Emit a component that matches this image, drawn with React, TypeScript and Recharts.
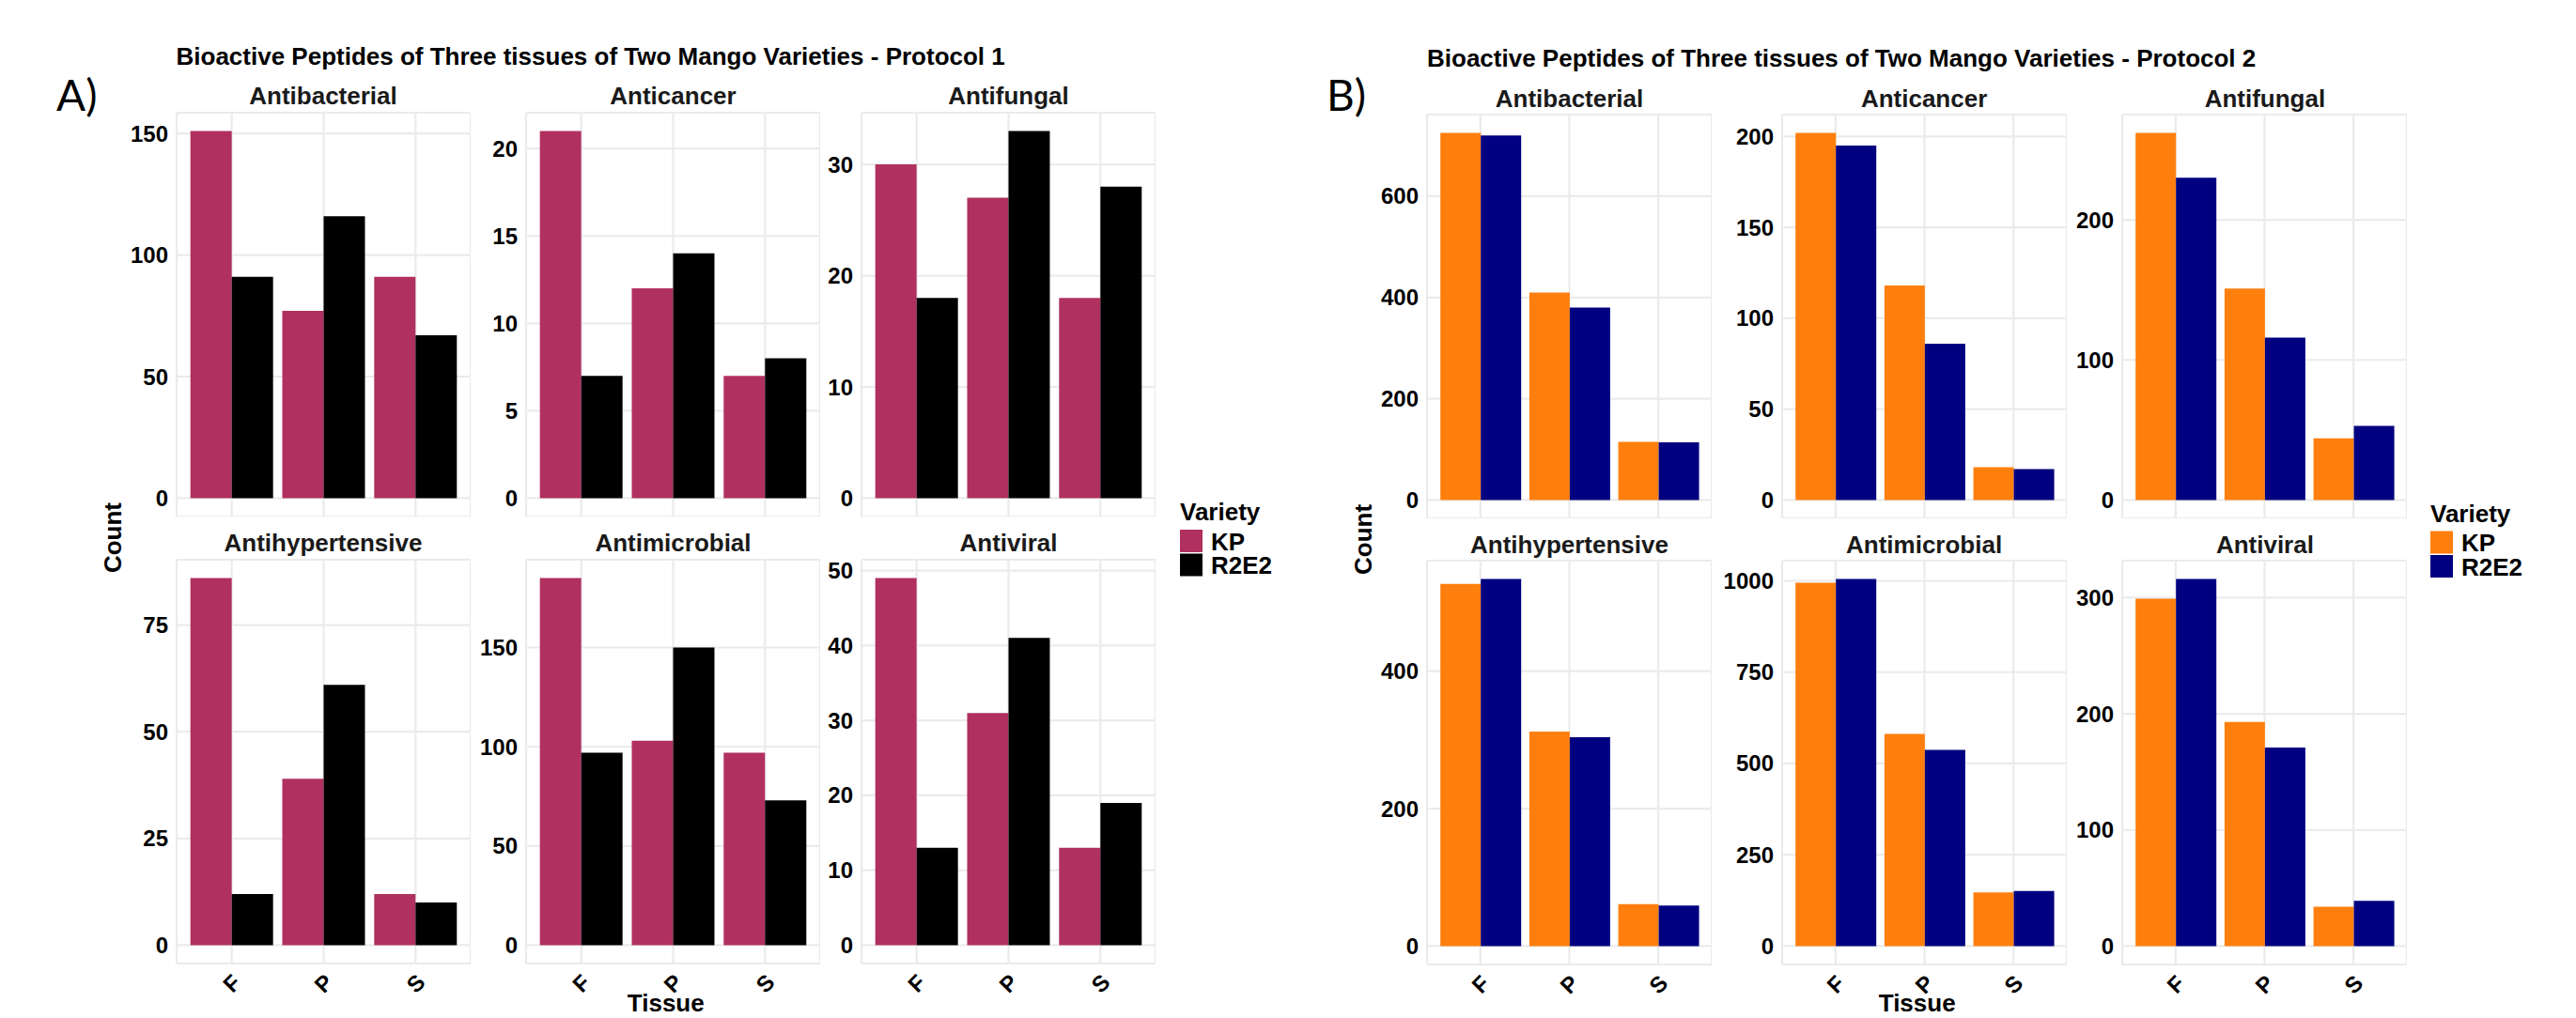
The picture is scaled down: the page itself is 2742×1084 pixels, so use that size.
import { Bar, BarChart, CartesianGrid, XAxis, YAxis } from "recharts";

const FONT = '"Liberation Sans", Arial, Helvetica, sans-serif';

const tissues = ["F", "P", "S"];
const varieties = ["KP", "R2E2"];
const activities = [
  "Antibacterial",
  "Anticancer",
  "Antifungal",
  "Antihypertensive",
  "Antimicrobial",
  "Antiviral",
];

// Protocol 1 counts, one row per activity: [F, P, S]
const p1KP = [
  [151, 77, 91],
  [21, 12, 7],
  [30, 27, 18],
  [86, 39, 12],
  [185, 103, 97],
  [49, 31, 13],
];
const p1R2E2 = [
  [91, 116, 67],
  [7, 14, 8],
  [18, 33, 28],
  [12, 61, 10],
  [97, 150, 73],
  [13, 41, 19],
];
const p1Ticks = [
  [0, 50, 100, 150],
  [0, 5, 10, 15, 20],
  [0, 10, 20, 30],
  [0, 25, 50, 75],
  [0, 50, 100, 150],
  [0, 10, 20, 30, 40, 50],
];

// Protocol 2 counts
const p2KP = [
  [725, 410, 115],
  [202, 118, 18],
  [262, 151, 44],
  [527, 312, 61],
  [995, 581, 147],
  [299, 193, 34],
];
const p2R2E2 = [
  [720, 380, 114],
  [195, 86, 17],
  [230, 116, 53],
  [534, 304, 59],
  [1005, 537, 151],
  [316, 171, 39],
];
const p2Ticks = [
  [0, 200, 400, 600],
  [0, 50, 100, 150, 200],
  [0, 100, 200],
  [0, 200, 400],
  [0, 250, 500, 750, 1000],
  [0, 100, 200, 300],
];

const p1Colors = ["#B03060", "#000000"];
const p2Colors = ["#FF7F0E", "#000080"];

const AXIS_W = 80;
const PANEL_H = 430;
const TOP_PAD = 20; // room so the top tick label is not clipped
const GRID = "#EBEBEB";

type Layout = { cols: number[]; rows: number[]; panelW: number };
const layoutA: Layout = { cols: [187.5, 560, 917], rows: [119.6, 595.5], panelW: 313 };
const layoutB: Layout = { cols: [1519, 1896.6, 2259.4], rows: [121.5, 597.3], panelW: 303 };

// minor breaks sit half way between the major ones (ggplot style)
const minorsOf = (ticks: number[], hi: number) => {
  const step = ticks[1] - ticks[0];
  return [...ticks, ticks[ticks.length - 1] + step]
    .slice(1)
    .map((t) => t - step / 2)
    .filter((t) => t <= hi);
};

function TissueTick(props: any) {
  const { x, y, payload } = props;
  const cy = y + 21;
  return (
    <text
      x={x}
      y={cy}
      transform={`rotate(-45 ${x} ${cy})`}
      textAnchor="middle"
      dominantBaseline="central"
      fontFamily={FONT}
      fontWeight={700}
      fontSize={24}
      fill="#000"
    >
      {payload.value}
    </text>
  );
}

function Facet({
  kp,
  r2,
  ticks,
  colors,
  left,
  top,
  panelW,
  bottomRow,
}: {
  kp: number[];
  r2: number[];
  ticks: number[];
  colors: string[];
  left: number;
  top: number;
  panelW: number;
  bottomRow: boolean;
}) {
  const data = tissues.map((t, i) => ({ tissue: t, KP: kp[i], R2E2: r2[i] }));
  const max = Math.max(...kp, ...r2);
  const lo = -0.05 * max;
  const hi = 1.05 * max;
  const pad = panelW / 32;
  const xH = bottomRow ? 60 : 0;

  return (
    <div style={{ position: "absolute", left: left - AXIS_W, top: top - TOP_PAD }}>
      <BarChart
        width={AXIS_W + panelW}
        height={PANEL_H + xH + TOP_PAD}
        data={data}
        margin={{ top: TOP_PAD, right: 0, bottom: 0, left: 0 }}
        barCategoryGap="5%"
        barGap={0}
      >
        <CartesianGrid yAxisId="minor" vertical={false} stroke={GRID} strokeWidth={1.3} />
        <CartesianGrid yAxisId="major" stroke={GRID} strokeWidth={2.2} />
        <XAxis
          dataKey="tissue"
          type="category"
          padding={{ left: pad, right: pad }}
          hide={!bottomRow}
          height={xH}
          axisLine={false}
          tickLine={false}
          tickSize={0}
          tickMargin={0}
          interval={0}
          tick={<TissueTick />}
        />
        <YAxis
          yAxisId="major"
          type="number"
          domain={[lo, hi]}
          ticks={ticks}
          interval={0}
          width={AXIS_W}
          axisLine={false}
          tickLine={false}
          tickSize={0}
          tickMargin={9}
          tick={{ fontSize: 24, fontWeight: 700, fill: "#000", fontFamily: FONT }}
        />
        <YAxis yAxisId="minor" type="number" domain={[lo, hi]} ticks={minorsOf(ticks, hi)} hide />
        <Bar yAxisId="major" dataKey="KP" fill={colors[0]} isAnimationActive={false} />
        <Bar yAxisId="major" dataKey="R2E2" fill={colors[1]} isAnimationActive={false} />
      </BarChart>
    </div>
  );
}

function Protocol({
  kp,
  r2,
  ticks,
  colors,
  layout,
}: {
  kp: number[][];
  r2: number[][];
  ticks: number[][];
  colors: string[];
  layout: Layout;
}) {
  return (
    <>
      {activities.map((a, i) => (
        <Facet
          key={a}
          kp={kp[i]}
          r2={r2[i]}
          ticks={ticks[i]}
          colors={colors}
          left={layout.cols[i % 3]}
          top={layout.rows[Math.floor(i / 3)]}
          panelW={layout.panelW}
          bottomRow={i >= 3}
        />
      ))}
    </>
  );
}

function Annotations({
  layout,
  title,
  tag,
  tagX,
  titleY,
  stripY,
  colors,
  legendX,
  legendY,
}: {
  layout: Layout;
  title: string;
  tag: string;
  tagX: number;
  titleY: number;
  stripY: number[];
  colors: string[];
  legendX: number;
  legendY: number;
}) {
  const { cols, rows, panelW } = layout;
  const midX = (cols[0] + cols[2] + panelW) / 2;
  const midY = (rows[0] + rows[1] + PANEL_H) / 2;
  const bold = { fontFamily: FONT, fontWeight: 700, fontSize: 26 };
  return (
    <g>
      <text x={cols[0]} y={titleY} {...bold} fill="#000">
        {title}
      </text>
      <text x={tagX} y={118} fontFamily="Lato, 'Open Sans', sans-serif" fontSize={46} fill="#000">
        {tag}
      </text>
      {activities.map((a, i) => (
        <text
          key={a}
          x={cols[i % 3] + panelW / 2}
          y={stripY[Math.floor(i / 3)]}
          textAnchor="middle"
          {...bold}
          fill="#1a1a1a"
        >
          {a}
        </text>
      ))}
      <text
        x={cols[0] - 58.5}
        y={midY}
        transform={`rotate(-90 ${cols[0] - 58.5} ${midY})`}
        textAnchor="middle"
        {...bold}
        fill="#000"
      >
        Count
      </text>
      <text x={midX} y={1077} textAnchor="middle" {...bold} fill="#000">
        Tissue
      </text>
      <text x={legendX} y={legendY} {...bold} fill="#000">
        Variety
      </text>
      {varieties.map((v, i) => (
        <g key={v}>
          <rect x={legendX} y={legendY + 10 + i * 25.5} width={24} height={24} fill={colors[i]} />
          <text x={legendX + 33} y={legendY + 31.5 + i * 25.5} {...bold} fill="#000">
            {v}
          </text>
        </g>
      ))}
    </g>
  );
}

export default function App() {
  return (
    <div
      style={{
        position: "absolute",
        left: 0,
        top: 0,
        width: 2742,
        height: 1084,
        overflow: "hidden",
        background: "#fff",
      }}
    >
      <Protocol kp={p1KP} r2={p1R2E2} ticks={p1Ticks} colors={p1Colors} layout={layoutA} />
      <Protocol kp={p2KP} r2={p2R2E2} ticks={p2Ticks} colors={p2Colors} layout={layoutB} />
      <svg
        width={2742}
        height={1084}
        style={{ position: "absolute", left: 0, top: 0, pointerEvents: "none" }}
      >
        <Annotations
          layout={layoutA}
          title="Bioactive Peptides of Three tissues of Two Mango Varieties - Protocol 1"
          tag="A)"
          tagX={60}
          titleY={69}
          stripY={[111, 587]}
          colors={p1Colors}
          legendX={1256}
          legendY={554}
        />
        <Annotations
          layout={layoutB}
          title="Bioactive Peptides of Three tissues of Two Mango Varieties - Protocol 2"
          tag="B)"
          tagX={1412}
          titleY={71}
          stripY={[113.5, 588.5]}
          colors={p2Colors}
          legendX={2587}
          legendY={555.5}
        />
      </svg>
    </div>
  );
}
